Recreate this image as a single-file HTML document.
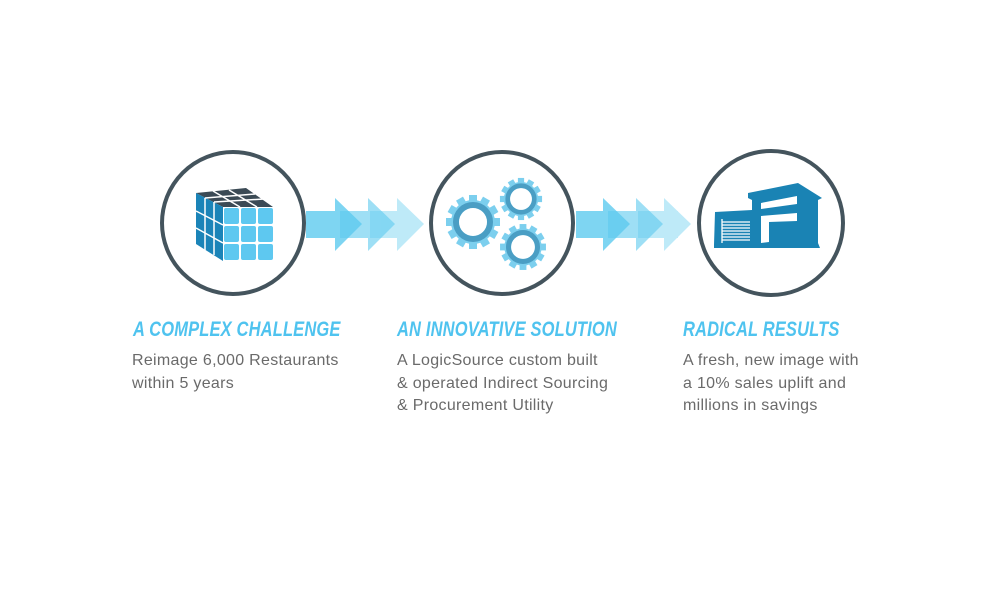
<!DOCTYPE html>
<html><head><style>
body{margin:0;background:#fff;width:1008px;height:612px;overflow:hidden;position:relative;font-family:"Liberation Sans",sans-serif}
.h{position:absolute;top:318px;font-weight:bold;font-style:italic;color:#4fc3ef;font-size:21px;transform:scaleX(0.785);transform-origin:left top;white-space:nowrap;letter-spacing:0.2px}
.t{position:absolute;top:350px;color:#6a6a6a;font-size:16px;line-height:22.5px;white-space:nowrap;letter-spacing:0.3px}
</style></head><body>
<svg width="1008" height="612" style="position:absolute;left:0;top:0">
<g fill="#5ecbf0">
<g opacity="0.8"><rect x="306" y="211" width="40" height="27"/><polygon points="335,198 362,224 335,251"/></g>
<g opacity="0.6"><rect x="340" y="211" width="40" height="27"/><polygon points="368,198 395,224 368,251"/></g>
<g opacity="0.4"><rect x="370" y="211" width="40" height="27"/><polygon points="397,198 424,224 397,251"/></g>
<g opacity="0.8"><rect x="576" y="211" width="40" height="27"/><polygon points="603,198 630,224 603,251"/></g>
<g opacity="0.6"><rect x="608" y="211" width="40" height="27"/><polygon points="636,198 663,224 636,251"/></g>
<g opacity="0.4"><rect x="638" y="211" width="40" height="27"/><polygon points="664,198 691,224 664,251"/></g>
</g>
<g fill="none" stroke="#44545d" stroke-width="4">
<circle cx="233" cy="223" r="71"/><circle cx="502" cy="223" r="71"/><circle cx="771" cy="223" r="72"/>
</g>
<!-- cube -->
<polygon points="196,193 246,188 273,207 223,207" fill="#3b4a55"/>
<polygon points="196,193 223,207 223,261 196,244" fill="#1b84b8"/>
<g stroke="#fff" stroke-width="1.5"><line x1="213" y1="191" x2="240" y2="207"/><line x1="229" y1="190" x2="257" y2="207"/><line x1="205" y1="198" x2="255" y2="194"/><line x1="214" y1="202" x2="264" y2="199"/>
<line x1="205" y1="198" x2="205" y2="250"/><line x1="214" y1="202" x2="214" y2="255"/><line x1="196" y1="211" x2="223" y2="225"/><line x1="196" y1="228" x2="223" y2="243"/></g>
<g fill="#5ec8f0">
<rect x="224" y="208" width="15" height="16" rx="2"/><rect x="241" y="208" width="15" height="16" rx="2"/><rect x="258" y="208" width="15" height="16" rx="2"/>
<rect x="224" y="226" width="15" height="16" rx="2"/><rect x="241" y="226" width="15" height="16" rx="2"/><rect x="258" y="226" width="15" height="16" rx="2"/>
<rect x="224" y="244" width="15" height="16" rx="2"/><rect x="241" y="244" width="15" height="16" rx="2"/><rect x="258" y="244" width="15" height="16" rx="2"/>
</g>
<!-- gears -->
<g transform="translate(473,222)">
<g fill="#7ccfee"><circle r="22"/>
<rect x="-4" y="-27" width="8" height="54"/><rect x="-4" y="-27" width="8" height="54" transform="rotate(30)"/><rect x="-4" y="-27" width="8" height="54" transform="rotate(60)"/><rect x="-4" y="-27" width="8" height="54" transform="rotate(90)"/><rect x="-4" y="-27" width="8" height="54" transform="rotate(120)"/><rect x="-4" y="-27" width="8" height="54" transform="rotate(150)"/></g>
<circle r="17" fill="none" stroke="#4a9ec4" stroke-width="6"/><circle r="14" fill="#fff"/></g>
<g transform="translate(521,199) scale(0.78)">
<g fill="#7ccfee"><circle r="22"/>
<rect x="-4" y="-27" width="8" height="54"/><rect x="-4" y="-27" width="8" height="54" transform="rotate(30)"/><rect x="-4" y="-27" width="8" height="54" transform="rotate(60)"/><rect x="-4" y="-27" width="8" height="54" transform="rotate(90)"/><rect x="-4" y="-27" width="8" height="54" transform="rotate(120)"/><rect x="-4" y="-27" width="8" height="54" transform="rotate(150)"/></g>
<circle r="17" fill="none" stroke="#4a9ec4" stroke-width="6"/><circle r="14" fill="#fff"/></g>
<g transform="translate(523,247) scale(0.85)">
<g fill="#7ccfee"><circle r="22"/>
<rect x="-4" y="-27" width="8" height="54"/><rect x="-4" y="-27" width="8" height="54" transform="rotate(30)"/><rect x="-4" y="-27" width="8" height="54" transform="rotate(60)"/><rect x="-4" y="-27" width="8" height="54" transform="rotate(90)"/><rect x="-4" y="-27" width="8" height="54" transform="rotate(120)"/><rect x="-4" y="-27" width="8" height="54" transform="rotate(150)"/></g>
<circle r="17" fill="none" stroke="#4a9ec4" stroke-width="6"/><circle r="14" fill="#fff"/></g>
<!-- building -->
<g fill="#1a83b4">
<polygon points="715,212 752,210 752,245 714,245"/>
<polygon points="748,193 798,183 822,198 818,200 818,245 752,248 752,200 748,198"/>
<polygon points="714,245 818,243 820,248 714,248"/>
</g>
<g fill="#fff">
<polygon points="761,203 797,196 797,204 761,209"/>
<polygon points="761,216 797,213 797,221 769,222 769,242 761,243"/>
</g>
<g stroke="#fff" stroke-width="1.3"><line x1="722" y1="222" x2="750" y2="222"/><line x1="722" y1="225" x2="750" y2="225"/><line x1="722" y1="228" x2="750" y2="228"/><line x1="722" y1="231" x2="750" y2="231"/><line x1="722" y1="234" x2="750" y2="234"/><line x1="722" y1="237" x2="750" y2="237"/><line x1="722" y1="240" x2="750" y2="240"/><line x1="722" y1="219" x2="722" y2="243"/></g>
</svg>
<div class="h" style="left:133px">A COMPLEX CHALLENGE</div>
<div class="h" style="left:397px">AN INNOVATIVE SOLUTION</div>
<div class="h" style="left:683px">RADICAL RESULTS</div>
<div class="t" style="left:132px">Reimage 6,000 Restaurants<br>within 5 years</div>
<div class="t" style="left:397px">A LogicSource custom built<br>&amp; operated Indirect Sourcing<br>&amp; Procurement Utility</div>
<div class="t" style="left:683px">A fresh, new image with<br>a 10% sales uplift and<br>millions in savings</div>
</body></html>
